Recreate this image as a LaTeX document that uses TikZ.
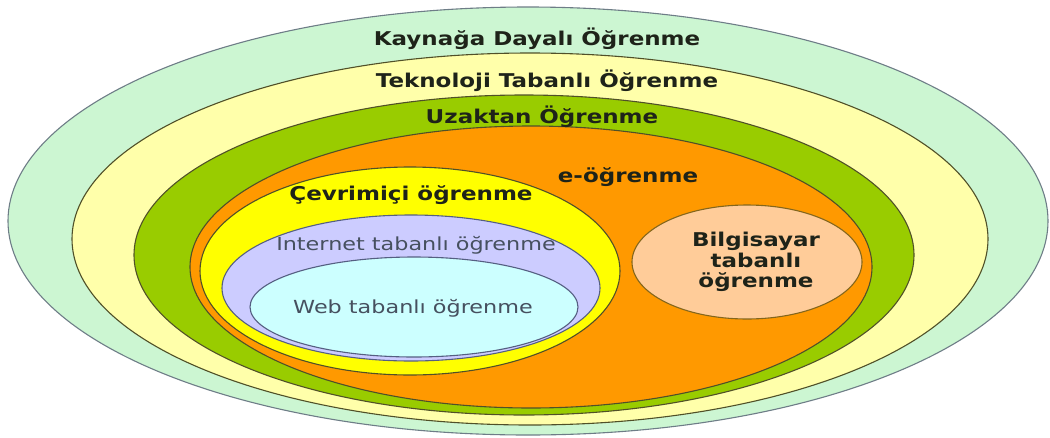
\documentclass[tikz,border=0pt]{standalone}
\usepackage{fontspec}
\setmainfont{DejaVu Sans}
\definecolor{cOuter}{RGB}{204,246,210}
\definecolor{cTek}{RGB}{255,255,170}
\definecolor{cUz}{RGB}{153,204,0}
\definecolor{cE}{RGB}{255,153,0}
\definecolor{cCev}{RGB}{255,255,0}
\definecolor{cInt}{RGB}{204,204,255}
\definecolor{cWeb}{RGB}{204,255,255}
\definecolor{cBil}{RGB}{255,204,153}
\definecolor{cLine}{RGB}{80,80,40}
\definecolor{cBlue}{RGB}{85,95,130}
\definecolor{cGrayEdge}{RGB}{110,125,135}
\definecolor{cTxt}{RGB}{30,35,25}
\definecolor{cTxtSoft}{RGB}{70,80,95}
\newcommand{\xwide}[2]{\scalebox{#1}[1]{#2}}
\tikzset{
  region/.style={draw=cLine, line width=1.1pt},
  lbl/.style={anchor=base, inner sep=0pt, text=cTxt, font=\bfseries\fontsize{19}{20.5}\selectfont},
  soft/.style={anchor=base, inner sep=0pt, text=cTxtSoft, font=\fontsize{18}{20}\selectfont}
}
\begin{document}
\begin{tikzpicture}[x=1pt,y=-1pt]
\useasboundingbox (0,0) rectangle (1050,437);
\fill[white] (0,0) rectangle (1050,437);
% nested regions
\filldraw[region, fill=cOuter, draw=cGrayEdge] (528,221) ellipse [x radius=520pt, y radius=214pt];
\filldraw[region, fill=cTek] (530,239) ellipse [x radius=458pt, y radius=186pt];
\filldraw[region, fill=cUz] (524,255) ellipse [x radius=390pt, y radius=160pt];
\filldraw[region, fill=cE] (531,267) ellipse [x radius=341pt, y radius=141pt];
\filldraw[region, fill=cCev] (410,271) ellipse [x radius=210pt, y radius=104pt];
\filldraw[region, fill=cInt, draw=cBlue] (411,288) ellipse [x radius=189pt, y radius=73pt];
\filldraw[region, fill=cWeb, draw=cBlue] (414,307) ellipse [x radius=164pt, y radius=50pt];
\filldraw[region, fill=cBil, draw=cLine!70!cE] (747,262) ellipse [x radius=115pt, y radius=57pt];
% labels
\node[lbl] (kay) at (537,45) {\xwide{1.21}{Kaynağa Dayalı Öğrenme}};
\node[lbl] (tek) at (547,87) {\xwide{1.21}{Teknoloji Tabanlı Öğrenme}};
\node[lbl] (uza) at (542,123) {\xwide{1.21}{Uzaktan Öğrenme}};
\node[lbl] (eog) at (628,182) {\xwide{1.21}{e-öğrenme}};
\node[lbl] (cev) at (411,200) {\xwide{1.21}{Çevrimiçi öğrenme}};
\node[soft] (int) at (416,250) {\xwide{1.24}{Internet tabanlı öğrenme}};
\node[soft] (web) at (413,313) {\xwide{1.24}{Web tabanlı öğrenme}};
\node[lbl, anchor=north, align=center] (bil) at (756,232)
  {\xwide{1.21}{Bilgisayar}\\\xwide{1.21}{tabanlı}\\\xwide{1.21}{öğrenme}};
\end{tikzpicture}
\end{document}
